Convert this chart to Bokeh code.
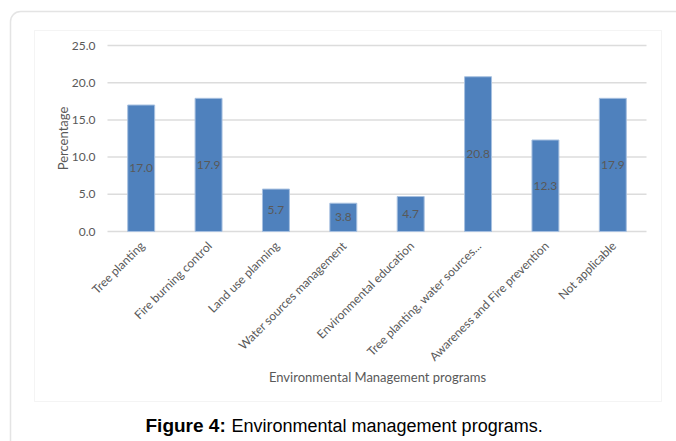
from bokeh.plotting import figure
from bokeh.models import (ColumnDataSource, LabelSet, Label, BoxAnnotation, Range1d)
from bokeh.core.properties import value
from bokeh.embed import file_html
from bokeh.resources import INLINE
import math

categories = ["Tree planting", "Fire burning control", "Land use planning",
              "Water sources management", "Environmental education",
              "Tree planting, water sources...", "Awareness and Fire prevention",
              "Not applicable"]
values = [17.0, 17.9, 5.7, 3.8, 4.7, 20.8, 12.3, 17.9]
y_ticks = [0, 5, 10, 15, 20, 25]

# ---- layout constants (canvas pixels, origin top-left) ----
W, H = 676, 441
PLOT_LEFT, PLOT_RIGHT = 107, 646   # x of category slot 0 start / slot 8 end
PLOT_TOP, PLOT_BOTTOM = 45, 231    # y of 25.0 and 0.0
Y_MAX = 25

px_x = (PLOT_RIGHT - PLOT_LEFT) / len(categories)
px_y = (PLOT_BOTTOM - PLOT_TOP) / Y_MAX
x_range = Range1d(-PLOT_LEFT / px_x, (W - PLOT_LEFT) / px_x)
y_range = Range1d(-(H - PLOT_BOTTOM) / px_y, PLOT_BOTTOM / px_y)

FONT = "Lato"
GREY = "#595959"

xpos = [i + 0.5 for i in range(len(categories))]
bars = ColumnDataSource(dict(
    x=xpos, val=values, mid=[v / 2 for v in values],
    lab=["%.1f" % v for v in values], cat=categories,
))
ticks = ColumnDataSource(dict(
    y=y_ticks, lab=["%.1f" % t for t in y_ticks],
    x0=[0] * len(y_ticks), x1=[len(categories)] * len(y_ticks),
))

p = figure(x_range=x_range, y_range=y_range, width=W, height=H,
           output_backend="svg", toolbar_location=None,
           x_axis_location=None, y_axis_location=None, min_border=0)
p.outline_line_color = None
p.grid.visible = False
p.background_fill_color = "white"
p.border_fill_color = "white"

# outer rounded frame and inner chart box
p.add_layout(BoxAnnotation(left=10, right=W + 40, top=H - 11, bottom=-40,
                           left_units="screen", right_units="screen",
                           top_units="screen", bottom_units="screen",
                           fill_alpha=0, line_color="#a6a6a6", line_width=1.5,
                           border_radius=10, level="underlay"))
p.add_layout(BoxAnnotation(left=34, right=661, top=H - 30, bottom=H - 401,
                           left_units="screen", right_units="screen",
                           top_units="screen", bottom_units="screen",
                           fill_alpha=0, line_color="#d9d9d9", line_width=1,
                           level="underlay"))

# gridlines
p.segment(x0="x0", x1="x1", y0="y", y1="y", source=ticks,
          line_color="#dcdcdc", line_width=1.5)

# bars
p.vbar(x="x", top="val", width=0.4, source=bars, fill_color="#4F81BD",
       line_color="#A7C0E0", line_width=1)

# value labels
p.add_layout(LabelSet(x="x", y="mid", text="lab", source=bars,
                      text_align="center", text_baseline="middle",
                      text_font=value(FONT), text_font_size="12px",
                      text_color=GREY))

# y tick labels
p.add_layout(LabelSet(x=value(95), x_units="screen", y="y", text="lab",
                      source=ticks, text_align="right", text_baseline="middle",
                      text_font=value(FONT), text_font_size="12px",
                      text_color=GREY))

# category labels (rotated 45 degrees)
p.add_layout(LabelSet(x="x", y=value(H - 243), y_units="screen", text="cat",
                      source=bars, x_offset=1, angle=math.pi / 4,
                      text_align="right", text_baseline="middle",
                      text_font=value(FONT), text_font_size="12px",
                      text_color=GREY))

# axis titles
p.add_layout(Label(x=62, y=H - 138, x_units="screen", y_units="screen",
                   text="Percentage", angle=math.pi / 2,
                   text_align="center", text_baseline="middle",
                   text_font=FONT, text_font_size="13px", text_color=GREY))
p.add_layout(Label(x=377, y=H - 376, x_units="screen", y_units="screen",
                   text="Environmental Management programs",
                   text_align="center", text_baseline="middle",
                   text_font=FONT, text_font_size="13px", text_color=GREY))

# caption
p.add_layout(Label(x=145, y=H - 425, x_units="screen", y_units="screen",
                   text="Figure 4:", text_font="Liberation Sans",
                   text_font_style="bold", text_font_size="19px",
                   text_color="black", text_baseline="middle"))
p.add_layout(Label(x=231, y=H - 425, x_units="screen", y_units="screen",
                   text="Environmental management programs.",
                   text_font="Liberation Sans", text_font_size="18px",
                   text_color="black", text_baseline="middle"))

open("out.html", "w").write(file_html(p, INLINE))
